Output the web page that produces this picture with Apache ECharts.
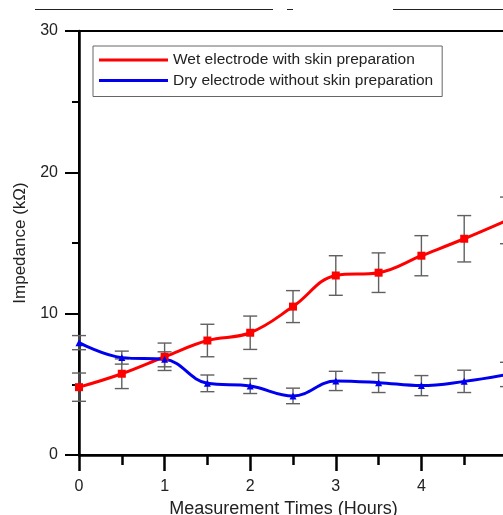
<!DOCTYPE html>
<html>
<head>
<meta charset="utf-8">
<script src="https://cdn.jsdelivr.net/npm/echarts@6/dist/echarts.min.js"></script>
<style>
html,body{margin:0;padding:0;background:#fff;}
#chart{width:503px;height:515px;}
</style>
</head>
<body>
<div id="chart"></div>
<script>
var times = [0, 0.5, 1, 1.5, 2, 2.5, 3, 3.5, 4, 4.5, 5];
var wetValues = [4.8, 5.75, 6.95, 8.1, 8.65, 10.5, 12.7, 12.9, 14.1, 15.3, 16.6];
var wetErrors = [1.0, 1.05, 0.97, 1.15, 1.18, 1.13, 1.4, 1.4, 1.42, 1.64, 1.65];
var dryValues = [7.95, 6.89, 6.77, 5.07, 4.88, 4.18, 5.24, 5.12, 4.91, 5.21, 5.7];
var dryErrors = [0.5, 0.46, 0.53, 0.59, 0.53, 0.55, 0.68, 0.7, 0.71, 0.79, 0.86];
var wetName = 'Wet electrode with skin preparation';
var dryName = 'Dry electrode without skin preparation';

function pairs(xs, ys) { return xs.map(function (x, i) { return [x, ys[i]]; }); }
function errData(xs, ys, es) { return xs.map(function (x, i) { return [x, ys[i] - es[i], ys[i] + es[i]]; }); }

function renderErr(params, api) {
  var x = api.value(0);
  var lo = api.coord([x, api.value(1)]);
  var hi = api.coord([x, api.value(2)]);
  var hw = 7;
  var style = { stroke: '#606060', lineWidth: 1.4, fill: null };
  return {
    type: 'group',
    children: [
      { type: 'line', shape: { x1: lo[0], y1: lo[1], x2: hi[0], y2: hi[1] }, style: style },
      { type: 'line', shape: { x1: lo[0] - hw, y1: lo[1], x2: lo[0] + hw, y2: lo[1] }, style: style },
      { type: 'line', shape: { x1: hi[0] - hw, y1: hi[1], x2: hi[0] + hw, y2: hi[1] }, style: style }
    ]
  };
}

var chart = echarts.init(document.getElementById('chart'), null, { renderer: 'canvas' });
var font = 'Liberation Sans, Arial, sans-serif';
chart.setOption({
  backgroundColor: '#fff',
  animation: false,
  graphic: [
    { type: 'line', shape: { x1: 35, y1: 9.5, x2: 273, y2: 9.5 }, style: { stroke: '#222', lineWidth: 1 } },
    { type: 'line', shape: { x1: 287, y1: 9.5, x2: 293, y2: 9.5 }, style: { stroke: '#222', lineWidth: 1 } },
    { type: 'line', shape: { x1: 393, y1: 9.5, x2: 503, y2: 9.5 }, style: { stroke: '#222', lineWidth: 1 } }
  ],
  grid: {
    left: 79, top: 31, width: 428, height: 424,
    outerBoundsMode: 'none', containLabel: false,
    show: true, borderColor: '#000', borderWidth: 2, backgroundColor: 'transparent'
  },
  legend: {
    orient: 'vertical',
    left: 93, top: 46,
    padding: [6, 9, 8, 6],
    itemGap: 4.5,
    itemWidth: 69, itemHeight: 3,
    borderColor: '#666', borderWidth: 1,
    backgroundColor: '#fff',
    icon: 'rect',
    textStyle: { fontFamily: font, fontSize: 15.5, color: '#222', padding: [0, 0, 0, 0] },
    data: [
      { name: wetName, itemStyle: { color: '#f00' } },
      { name: dryName, itemStyle: { color: '#00e' } }
    ]
  },
  xAxis: {
    type: 'value', min: 0, max: 5, interval: 1,
    name: 'Measurement Times (Hours)', nameLocation: 'middle', nameGap: 42,
    nameTextStyle: { fontFamily: font, fontSize: 18, color: '#222', padding: [0, 19, 0, 0] },
    axisLine: { show: true, onZero: false, lineStyle: { color: '#000', width: 2.5 } },
    axisTick: { show: true, inside: false, length: 16, lineStyle: { color: '#000', width: 2.5 } },
    minorTick: { show: true, splitNumber: 2, length: 10, lineStyle: { color: '#000', width: 2.5 } },
    axisLabel: { fontFamily: font, fontSize: 16, color: '#222', margin: 24 },
    splitLine: { show: false }
  },
  yAxis: {
    type: 'value', min: 0, max: 30, interval: 10,
    name: 'Impedance (kΩ)', nameLocation: 'middle', nameGap: 45,
    nameTextStyle: { fontFamily: font, fontSize: 17, color: '#222' },
    axisLine: { show: true, onZero: false, lineStyle: { color: '#000', width: 2.5 } },
    axisTick: { show: true, inside: false, length: 14, lineStyle: { color: '#000', width: 2 } },
    minorTick: { show: true, splitNumber: 2, length: 7, lineStyle: { color: '#000', width: 2 } },
    axisLabel: { fontFamily: font, fontSize: 16, color: '#222', margin: 21 },
    splitLine: { show: false }
  },
  series: [
    {
      type: 'custom', name: 'wetErr', renderItem: renderErr, z: 1,
      data: errData(times, wetValues, wetErrors), clip: false, silent: true
    },
    {
      type: 'custom', name: 'dryErr', renderItem: renderErr, z: 1,
      data: errData(times, dryValues, dryErrors), clip: false, silent: true
    },
    {
      type: 'line', name: wetName, data: pairs(times, wetValues), smooth: 0.4, z: 3,
      symbol: 'rect', symbolSize: 8, showAllSymbol: true,
      lineStyle: { color: '#f00', width: 3 }, itemStyle: { color: '#f00' }
    },
    {
      type: 'line', name: dryName, data: pairs(times, dryValues), smooth: 0.4, z: 3,
      symbol: 'triangle', symbolSize: 7, showAllSymbol: true,
      lineStyle: { color: '#00e', width: 3 }, itemStyle: { color: '#00e' }
    }
  ]
});
</script>
</body>
</html>
